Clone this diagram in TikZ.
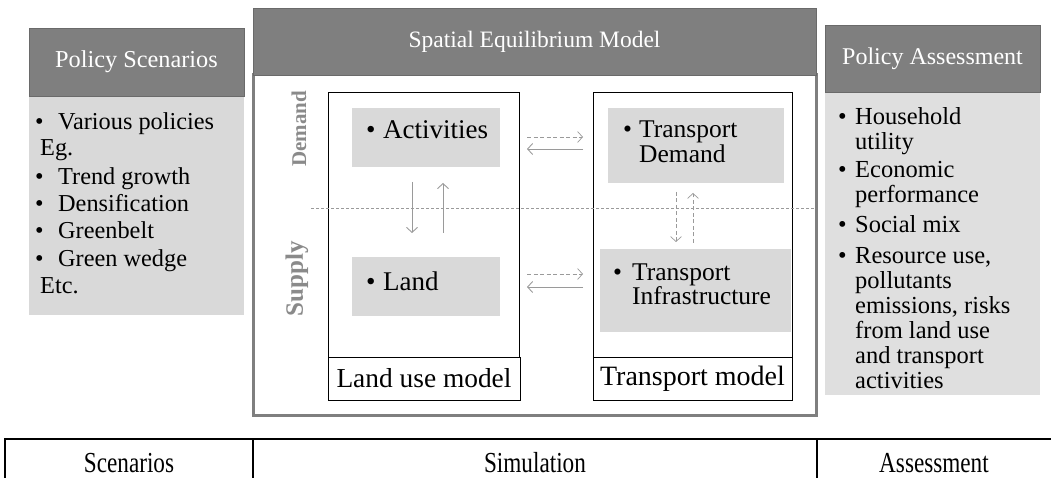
\documentclass[tikz,border=0pt]{standalone}
\usepackage{fontspec}
\setmainfont{Liberation Serif}
\usetikzlibrary{arrows.meta}
\definecolor{hdrgray}{HTML}{7F7F7F}
\definecolor{hdrline}{HTML}{6A6A6A}
\definecolor{boxgray}{HTML}{D9D9D9}
\definecolor{arrgray}{HTML}{9A9A9A}
\definecolor{sidegray}{HTML}{8A8A8A}
\begin{document}
\begin{tikzpicture}[x=1pt,y=-1pt,
  box/.style={anchor=north west, inner sep=0pt, outer sep=0pt},
  hdr/.style={box, draw=hdrline, fill=hdrgray, line width=0.8pt},
  hdrtxt/.style={inner sep=0pt, text=white, font=\fontsize{24.3}{28}\selectfont},
  panel/.style={box, fill=boxgray},
  modelbox/.style={box, draw=black, line width=0.9pt},
  ln/.style={anchor=base west, inner sep=0pt, font=\fontsize{24.3}{27}\selectfont},
  lnr/.style={anchor=base west, inner sep=0pt, font=\fontsize{24.5}{27}\selectfont},
  big/.style={anchor=base west, inner sep=0pt, font=\fontsize{27}{30}\selectfont},
  mid/.style={anchor=base west, inner sep=0pt, font=\fontsize{25.5}{28}\selectfont},
  side/.style={rotate=90, inner sep=0pt, text=sidegray},
  solidarr/.style={draw=arrgray, line width=0.9pt, -{Straight Barb[length=5pt,width=11pt]}},
  dasharr/.style={solidarr, line width=0.7pt, dash pattern=on 4pt off 2.5pt},
  sepline/.style={draw=arrgray, line width=0.6pt, dash pattern=on 3pt off 2pt},
  tbl/.style={draw=black, line width=2.5pt},
  foot/.style={anchor=base, inner sep=0pt, xscale=0.8, font=\fontsize{29}{32}\selectfont}
]
\useasboundingbox (0,0) rectangle (1051,478);

% left column
\node[hdr, minimum width=215pt, minimum height=68pt] (lhdr) at (29,28) {};
\node[hdrtxt] (lhdrt) at (lhdr.center) {Policy Scenarios};
\node[panel, minimum width=215pt, minimum height=218pt] (lbody) at (29,97) {};
\node[ln] (lb1) at (35,130) {\textbullet};
\node[ln] (l1) at (58,130) {Various policies};
\node[ln] (l2) at (40,156) {Eg.};
\node[ln] (lb3) at (35,185) {\textbullet};
\node[ln] (l3) at (58,185) {Trend growth};
\node[ln] (lb4) at (35,212) {\textbullet};
\node[ln] (l4) at (58,212) {Densification};
\node[ln] (lb5) at (35,239) {\textbullet};
\node[ln] (l5) at (58,239) {Greenbelt};
\node[ln] (lb6) at (35,266) {\textbullet};
\node[ln] (l6) at (58,266) {Green wedge};
\node[ln] (l7) at (40,293) {Etc.};

% centre
\node[box, draw=hdrgray, line width=3pt, minimum width=563pt, minimum height=340pt] (outer) at (253,75) {};
\node[hdr, minimum width=563pt, minimum height=67pt] (shdr) at (253,8) {};
\node[hdrtxt, font=\fontsize{23.5}{28}\selectfont] (shdrt) at (shdr.center) {Spatial Equilibrium Model};

\node[modelbox, minimum width=191pt, minimum height=265pt] (lum) at (328,92) {};
\node[modelbox, minimum width=192pt, minimum height=43pt] (lumlab) at (328,357) {};
\node[inner sep=0pt, font=\fontsize{27.4}{30}\selectfont] (lumlabt) at (lumlab.center) {Land use model};
\node[modelbox, minimum width=199pt, minimum height=265pt] (tm) at (593,92) {};
\node[modelbox, minimum width=199pt, minimum height=43pt] (tmlab) at (593,357) {};
\node[inner sep=0pt, font=\fontsize{28}{30}\selectfont] (tmlabt) at (tmlab.center) {Transport model};

\node[panel, minimum width=148pt, minimum height=59pt] (act) at (352,108) {};
\node[big] (actb) at (366,139) {\textbullet};
\node[big] (actt) at (383,139) {Activities};
\node[panel, minimum width=148pt, minimum height=59pt] (land) at (352,257) {};
\node[big] (landb) at (366,290) {\textbullet};
\node[big] (landt) at (383,290) {Land};
\node[panel, minimum width=176pt, minimum height=75pt] (tdem) at (608,108) {};
\node[mid] (tdemb) at (623,138) {\textbullet};
\node[mid] (tdem1) at (639,138) {Transport};
\node[mid] (tdem2) at (639,163) {Demand};
\node[panel, minimum width=191pt, minimum height=83pt] (tinf) at (600,249) {};
\node[mid] (tinfb) at (613,280) {\textbullet};
\node[mid] (tinf1) at (632,280) {Transport};
\node[mid] (tinf2) at (632,304) {Infrastructure};

\node[side, font=\bfseries\fontsize{21}{24}\selectfont] (dem) at (299,129) {Demand};
\node[side, font=\bfseries\fontsize{25}{28}\selectfont] (sup) at (297,279) {Supply};

\coordinate (sepL) at (311,208);
\draw[sepline] (sepL) -- (sepL -| outer.east);

% horizontal arrows
\coordinate (a1) at (527,137); \coordinate (a2) at (583,137);
\coordinate (b1) at (583,149); \coordinate (b2) at (527,149);
\coordinate (c1) at (527,274); \coordinate (c2) at (583,274);
\coordinate (d1) at (583,287); \coordinate (d2) at (527,287);
\draw[dasharr] (a1) -- (a2);
\draw[solidarr] (b1) -- (b2);
\draw[dasharr] (c1) -- (c2);
\draw[solidarr] (d1) -- (d2);
% vertical arrows
\coordinate (e1) at (412,182); \coordinate (e2) at (412,233);
\coordinate (f1) at (443,233); \coordinate (f2) at (443,183);
\coordinate (g1) at (676,192); \coordinate (g2) at (676,242);
\coordinate (h1) at (693,243); \coordinate (h2) at (693,193);
\draw[solidarr] (e1) -- (e2);
\draw[solidarr] (f1) -- (f2);
\draw[dasharr] (g1) -- (g2);
\draw[dasharr] (h1) -- (h2);

% right column
\node[hdr, minimum width=215pt, minimum height=67pt] (rhdr) at (825,25) {};
\node[hdrtxt, font=\fontsize{24}{28}\selectfont] (rhdrt) at (rhdr.center) {Policy Assessment};
\node[panel, fill=boxgray!85!white, minimum width=215pt, minimum height=302pt] (rbody) at (825,93) {};
\node[lnr] (rb1) at (838,125) {\textbullet};
\node[lnr] (r1a) at (855,125) {Household};
\node[lnr] (r1b) at (855,150) {utility};
\node[lnr] (rb2) at (838,178) {\textbullet};
\node[lnr] (r2a) at (855,178) {Economic};
\node[lnr] (r2b) at (855,203) {performance};
\node[lnr] (rb3) at (838,233) {\textbullet};
\node[lnr] (r3) at (855,233) {Social mix};
\node[lnr] (rb4) at (838,263) {\textbullet};
\node[lnr] (r4a) at (855,263) {Resource use,};
\node[lnr] (r4b) at (855,288) {pollutants};
\node[lnr] (r4c) at (855,313) {emissions, risks};
\node[lnr] (r4d) at (855,338) {from land use};
\node[lnr] (r4e) at (855,363) {and transport};
\node[lnr] (r4f) at (855,388) {activities};

% bottom table
\coordinate (tl) at (4,439); \coordinate (tr) at (1051,439);
\coordinate (v1) at (5,439); \coordinate (v2) at (253,439); \coordinate (v3) at (817,439);
\draw[tbl] (tl) -- (tr);
\draw[tbl] (v1) -- (v1 |- 0,480);
\draw[tbl] (v2) -- (v2 |- 0,480);
\draw[tbl] (v3) -- (v3 |- 0,480);
\node[foot] (f1) at (129,472) {Scenarios};
\node[foot] (f2) at (535,472) {Simulation};
\node[foot] (f3) at (934,472) {Assessment};
\end{tikzpicture}
\end{document}
